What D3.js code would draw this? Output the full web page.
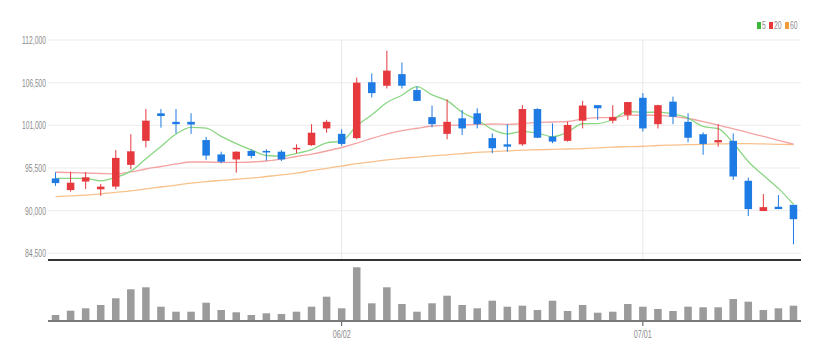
<!DOCTYPE html>
<html><head><meta charset="utf-8">
<script src="https://cdn.jsdelivr.net/npm/d3@7"></script>
<style>
html,body{margin:0;padding:0;background:#fff;}
svg{display:block;}
text{font-family:"Liberation Sans Narrow","Liberation Sans",Arial,sans-serif;}
</style></head>
<body>
<svg id="chart" width="823" height="361"></svg>
<script>
const dates = ["05/04","05/06","05/09","05/10","05/11","05/12","05/13","05/16","05/17","05/18",
"05/19","05/20","05/23","05/24","05/25","05/26","05/27","05/30","05/31","06/02",
"06/03","06/07","06/08","06/09","06/10","06/13","06/14","06/15","06/16","06/17",
"06/20","06/21","06/22","06/23","06/24","06/27","06/28","06/29","06/30","07/01",
"07/04","07/05","07/06","07/07","07/08","07/11","07/12","07/13","07/14","07/15"];
const open  = [94150,92650,93750,92750,93100,95900,99000,102550,101450,101450,
99100,97250,96600,97700,97700,97600,97950,98450,100600,99900,
99350,106550,106100,107600,105550,102050,99900,101900,102550,99350,
98550,98550,103100,99550,99000,101600,103600,101600,102350,104550,
101150,104050,101450,99850,98800,99000,93850,89950,90500,90750];
const high  = [94950,95000,94950,93450,97800,99850,103100,103100,103100,102550,
99500,97600,97650,97900,97900,97800,98550,101150,101700,100500,
107150,107700,110600,109100,106000,103550,104350,103000,103200,99950,
101150,103600,103200,101250,101450,104150,103600,103600,104000,105150,
103650,104700,102550,100100,101150,99950,94250,92150,92000,90750];
const low   = [93200,92450,92800,91900,92750,95350,98150,100700,99950,99900,
96550,96100,94900,96750,96450,96400,97400,98350,100050,98350,
99200,104600,105750,105750,104100,100750,99200,99750,100600,97400,
97600,98350,99350,98700,98900,100600,101700,101250,101700,100200,
100600,101150,98800,97200,98250,93950,89300,89950,90200,85650];
const close = [93550,93600,94300,93100,96800,97650,101600,102200,101150,101100,
97100,96300,97600,97050,97500,96600,98100,100050,101450,98600,
106500,105150,108050,106100,104150,101150,101450,100600,101150,98050,
98250,103100,99400,98900,101050,103550,103200,102050,104000,100600,
103600,102100,99400,98600,99100,94400,90200,90450,90200,88900];
const volume = [60000,103000,127000,160000,227000,317000,337000,143000,93000,93000,
183000,110000,87000,60000,77000,70000,93000,143000,243000,127000,
537000,177000,337000,170000,93000,177000,253000,160000,127000,203000,
143000,153000,110000,203000,100000,160000,83000,93000,170000,143000,
120000,100000,143000,137000,137000,220000,193000,110000,127000,153000];
const ma5 = [94150,94150,94150,93850,94270,95090,96690,98270,99880,100740,
100630,99570,98650,97830,97110,97010,97370,97860,98740,98960,
100940,102350,103950,104880,105990,104920,104180,102690,101700,100480,
99900,100230,99990,99540,100140,101200,101220,101750,102770,102680,
102690,102470,101940,100860,100560,98720,96340,94550,92870,90830];
const ma20 = [94950,94920,94850,94790,94730,95000,95370,95690,96020,96270,
96270,96210,96210,96270,96400,96660,96980,97300,97690,98140,
98690,99330,99880,100310,100620,100910,101000,101040,101110,101170,
101130,101240,101370,101430,101490,101820,101980,102010,102270,102330,
102270,102140,101880,101490,101040,100550,100050,99560,99060,98560];
const ma60 = [91800,91900,92000,92150,92350,92550,92800,93050,93300,93550,
93750,93900,94050,94200,94400,94600,94850,95150,95450,95750,
96050,96300,96550,96750,96900,97050,97200,97350,97500,97600,
97700,97800,97850,97900,97950,98000,98100,98200,98250,98300,
98400,98450,98500,98550,98600,98650,98650,98600,98550,98500];
const priceTicks = [84500,90000,95500,101000,106500,112000];
const dateTicks = ["06/02","07/01"];
const legendLabels = ["5","20","60"];

const colors = {up:"#e5393d", down:"#1f7be4", ma5:"#8ad683", ma20:"#f4a3a3", ma60:"#f8c18c"};
const legendColors = ["#3cb83c","#e8383c","#f29b3a"];

const svg = d3.select("#chart");
const left = 48, right = 801;
const x = d3.scaleBand().domain(dates).range([left, right]).paddingInner(0.5).paddingOuter(0.25);
const y = d3.scaleLinear().domain([84500, 112000]).range([253.3, 40]);
const yv = d3.scaleLinear().domain([0, 600000]).range([321, 261]);
const cx = d => x(d) + x.bandwidth()/2;

// grid
svg.append("g").selectAll("line").data(priceTicks).join("line")
  .attr("x1", left).attr("x2", right).attr("y1", d=>y(d)).attr("y2", d=>y(d))
  .attr("stroke","#ececec").attr("stroke-width",1);
svg.append("g").selectAll("line").data(dateTicks).join("line")
  .attr("x1", d=>cx(d)).attr("x2", d=>cx(d)).attr("y1", 40).attr("y2", 260)
  .attr("stroke","#e8e8e8").attr("stroke-width",1);

// y axis
const yAxis = svg.append("g").attr("transform",`translate(${left-2},0)`)
  .call(d3.axisLeft(y).tickValues(priceTicks).tickFormat(d3.format(",")).tickSize(0).tickPadding(0));
yAxis.select(".domain").remove();
yAxis.selectAll("text").attr("fill","#8c8c8c").attr("font-size",11)
  .attr("font-family","Liberation Sans Narrow, Liberation Sans, sans-serif")
  .attr("textLength",24).attr("lengthAdjust","spacingAndGlyphs");
yAxis.selectAll("text").filter(d=>d<100000).attr("textLength",21);

// MA lines
const idx = d3.range(dates.length);
const lineOf = arr => d3.line().x(i=>cx(dates[i])).y(i=>y(arr[i])).curve(d3.curveMonotoneX)(idx);
[[ma60,colors.ma60],[ma20,colors.ma20],[ma5,colors.ma5]].forEach(([arr,c])=>{
  svg.append("path").attr("d", lineOf(arr)).attr("fill","none").attr("stroke",c).attr("stroke-width",1.3);
});

// candles
const cg = svg.append("g");
idx.forEach(i=>{
  const up = close[i] >= open[i];
  const c = up ? colors.up : colors.down;
  cg.append("line").attr("x1",cx(dates[i])).attr("x2",cx(dates[i]))
    .attr("y1",y(high[i])).attr("y2",y(low[i])).attr("stroke",c).attr("stroke-width",1);
  const top = y(Math.max(open[i],close[i])), bot = y(Math.min(open[i],close[i]));
  cg.append("rect").attr("x",x(dates[i])).attr("width",x.bandwidth())
    .attr("y",top).attr("height",Math.max(1.5,bot-top)).attr("fill",c);
});

// separator
svg.append("line").attr("x1",left).attr("x2",right).attr("y1",260).attr("y2",260)
  .attr("stroke","#333").attr("stroke-width",2);

// volume
svg.append("g").selectAll("rect").data(idx).join("rect")
  .attr("x",i=>x(dates[i])).attr("width",x.bandwidth())
  .attr("y",i=>yv(volume[i])).attr("height",i=>yv(0)-yv(volume[i]))
  .attr("fill","#9b9b9b");
svg.append("line").attr("x1",left).attr("x2",right).attr("y1",321).attr("y2",321)
  .attr("stroke","#7a7a7a").attr("stroke-width",2);

// x axis
const xAxis = svg.append("g").attr("transform","translate(0,322)")
  .call(d3.axisBottom(x).tickValues(dateTicks).tickSize(4).tickPadding(4));
xAxis.select(".domain").remove();
xAxis.selectAll("line").attr("stroke","#555");
xAxis.selectAll("text").attr("fill","#8c8c8c").attr("font-size",11)
  .attr("textLength",18).attr("lengthAdjust","spacingAndGlyphs");

// legend
const lg = svg.append("g").attr("transform","translate(757,29)");
const loff = [0, 12, 28];
legendLabels.forEach((t,k)=>{
  lg.append("rect").attr("x",loff[k]).attr("y",-7).attr("width",4).attr("height",7).attr("fill",legendColors[k]);
  lg.append("text").attr("x",loff[k]+5).attr("y",0).attr("font-size",10).attr("fill","#8c8c8c")
    .attr("textLength", t.length*3.8).attr("lengthAdjust","spacingAndGlyphs").text(t);
});
</script>
</body></html>
